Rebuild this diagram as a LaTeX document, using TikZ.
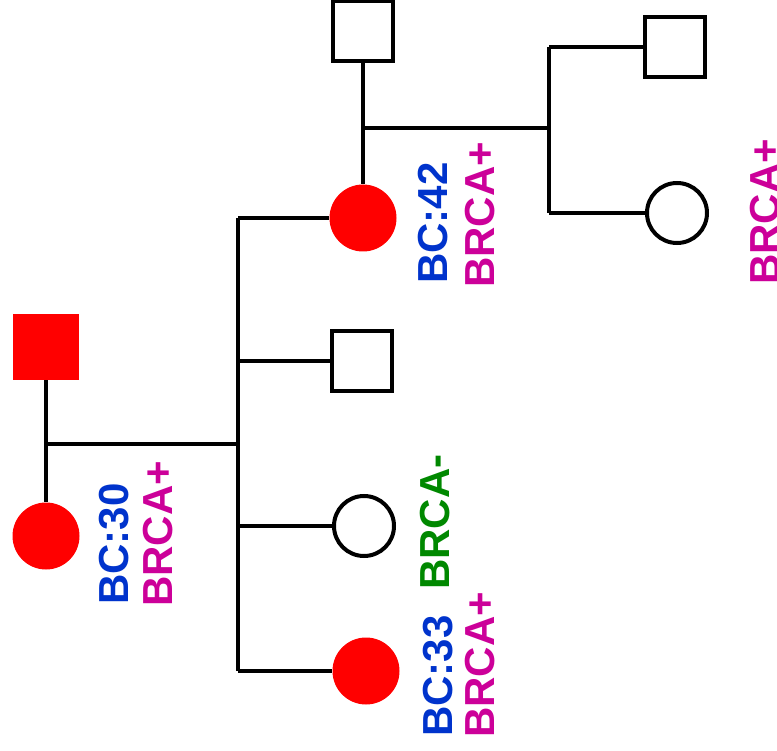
\documentclass[tikz,border=0pt]{standalone}
\usepackage{fontspec}
\setmainfont{Liberation Sans}
\definecolor{affected}{RGB}{255,0,0}
\definecolor{agecol}{RGB}{0,51,204}
\definecolor{poscol}{RGB}{204,0,153}
\definecolor{negcol}{RGB}{0,136,0}
\begin{document}
\begin{tikzpicture}[x=1pt,y=-1pt,
  link/.style={line width=4pt, black},
  male/.style={rectangle, draw=black, line width=4pt, fill=white, minimum size=60pt, inner sep=0},
  female/.style={circle, draw=black, line width=4pt, fill=white, minimum size=60pt, inner sep=0},
  malex/.style={rectangle, fill=affected, minimum size=66pt, inner sep=0},
  femalex/.style={circle, fill=affected, minimum size=67pt, inner sep=0},
  lab/.style={rotate=90, anchor=base west, inner sep=0, font=\bfseries\fontsize{42}{42}\selectfont}]
\useasboundingbox (0,0) rectangle (777,751);

% individuals
\node[malex]   (f1) at (46,347) {};
\node[femalex] (d1) at (46,536) {};
\node[femalex] (s1) at (363,218) {};
\node[male]    (s2) at (362,361) {};
\node[female]  (s3) at (364,526) {};
\node[femalex] (s4) at (366,671) {};
\node[male]    (gf) at (363,31) {};
\node[male]    (u1) at (675,47) {};
\node[female]  (u2) at (677,213) {};

% junction points
\coordinate (mA) at (46,444);
\coordinate (jA) at (238,444);
\coordinate (b1) at (238,218);
\coordinate (b2) at (238,361);
\coordinate (b3) at (238,526);
\coordinate (b4) at (238,671);
\coordinate (mB) at (363,128);
\coordinate (jB) at (549,128);
\coordinate (c1) at (549,47);
\coordinate (c2) at (549,213);

% lines of descent
\draw[link] (f1) -- (d1);
\draw[link] (mA) -- (jA);
\draw[link] (b1) -- (b4);
\draw[link] (b1) -- (s1);
\draw[link] (b2) -- (s2);
\draw[link] (b3) -- (s3);
\draw[link] (b4) -- (s4);
\draw[link] (gf) -- (s1);
\draw[link] (mB) -- (jB);
\draw[link] (c1) -- (c2);
\draw[link] (c1) -- (u1);
\draw[link] (c2) -- (u2);

% annotations
\node[lab, text=agecol] (t1) at (128,605) {BC:30};
\node[lab, text=poscol] (t2) at (172,607) {BRCA+};
\node[lab, text=agecol] (t3) at (447,284) {BC:42};
\node[lab, text=poscol] (t4) at (494,288) {BRCA+};
\node[lab, text=poscol] (t5) at (779,285) {BRCA+};
\node[lab, text=negcol] (t6) at (449,590) {BRCA-};
\node[lab, text=agecol] (t7) at (452,737) {BC:33};
\node[lab, text=poscol] (t8) at (494,738) {BRCA+};
\end{tikzpicture}
\end{document}
